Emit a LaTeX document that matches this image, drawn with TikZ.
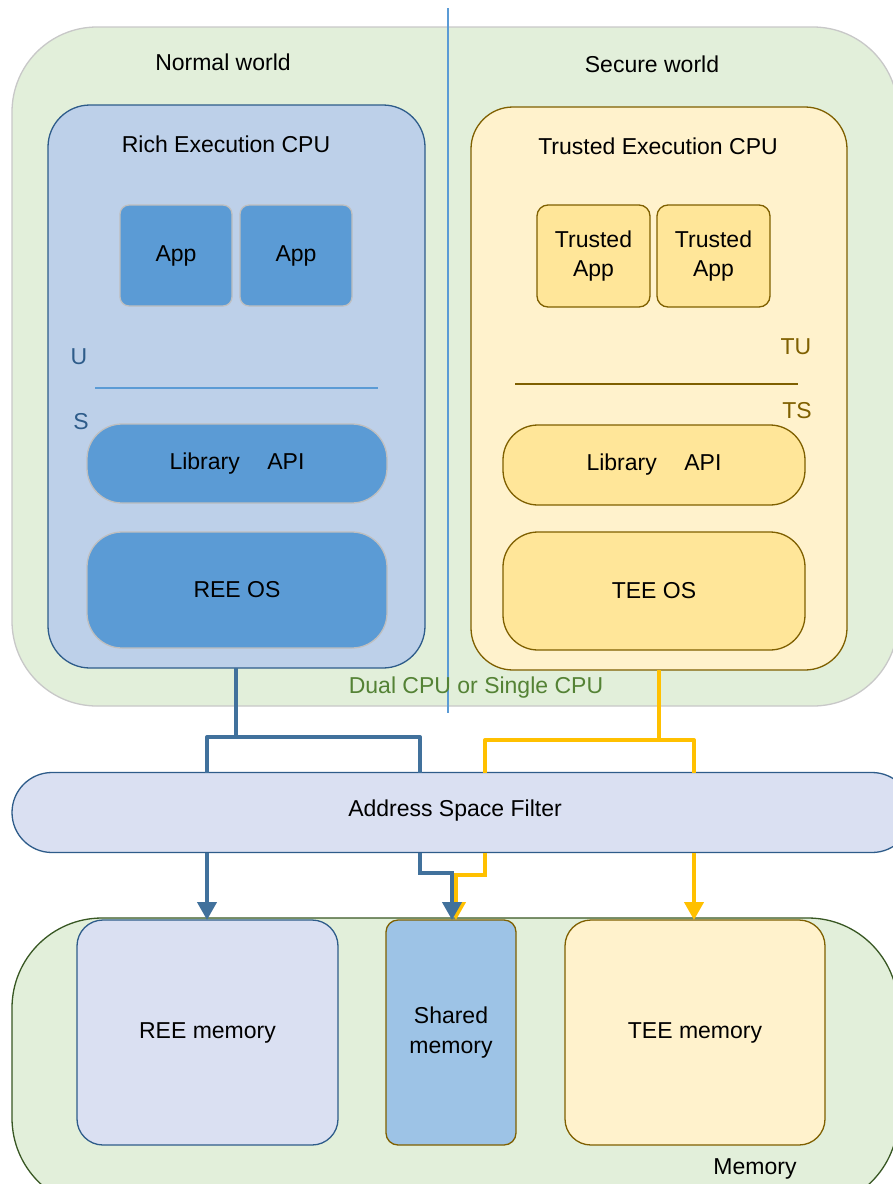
\documentclass[tikz,border=0pt]{standalone}
\usepackage{fontspec}
\setmainfont{Liberation Sans}
\usetikzlibrary{arrows.meta}
\definecolor{cpuGreen}{HTML}{E2EFDA}
\definecolor{cpuEdge}{HTML}{C8C8C8}
\definecolor{richFill}{HTML}{BDD0E9}
\definecolor{richEdge}{HTML}{2E5C8A}
\definecolor{appBlue}{HTML}{5B9BD5}
\definecolor{appEdge}{HTML}{BFBFBF}
\definecolor{trFill}{HTML}{FFF2CC}
\definecolor{trEdge}{HTML}{7F6000}
\definecolor{taFill}{HTML}{FFE699}
\definecolor{filtFill}{HTML}{DAE0F2}
\definecolor{lineBlue}{HTML}{41719C}
\definecolor{lineGold}{HTML}{FFC000}
\definecolor{memEdge}{HTML}{385723}
\definecolor{shFill}{HTML}{9DC3E6}
\definecolor{dualGreen}{HTML}{548235}
\definecolor{dividerBlue}{HTML}{5B9BD5}
\begin{document}
\begin{tikzpicture}[x=1pt,y=-1pt,
  font=\fontsize{23}{27}\selectfont,
  box/.style={draw,rounded corners=#1,inner sep=0pt,outer sep=0pt,align=center,line width=1.3pt},
  blueconn/.style={draw=lineBlue,line width=4pt},
  goldconn/.style={draw=lineGold,line width=4pt},
  tip/.style={-{Triangle[width=19pt,length=18pt]}}
]
\useasboundingbox (0,0) rectangle (893,1184);
\fill[white] (0,0) rectangle (893,1184);
% outer CPU area
\node[box=85pt,draw=cpuEdge,fill=cpuGreen,minimum width=886pt,minimum height=679pt] (cpu) at (455,366.5) {};
% Memory outer
\node[box=90pt,draw=memEdge,fill=cpuGreen,minimum width=886pt,minimum height=290pt] (mem) at (455,1063) {};
% divider
\coordinate (divtop) at (448,8);
\coordinate (divbot) at (448,713);
\draw[dividerBlue,line width=1.3pt] (divtop) -- (divbot);
\node (nw) at (223,62) {Normal world};
\node (sw) at (652,64) {Secure world};
% Rich CPU
\node[box=42pt,draw=richEdge,fill=richFill,minimum width=377pt,minimum height=563pt] (rich) at (236.5,386.5) {};
\node (richt) at (226,144) {Rich Execution CPU};
\node[box=9pt,draw=appEdge,fill=appBlue,minimum width=112pt,minimum height=101pt] (app1) at (176,255.5) {App};
\node[box=9pt,draw=appEdge,fill=appBlue,minimum width=112pt,minimum height=101pt] (app2) at (296,255.5) {App};
\node[text=richEdge] (U) at (79,357) {U};
\node[text=richEdge] (S) at (81,422) {S};
\coordinate (ul) at (95,388);
\coordinate (ur) at (378,388);
\draw[dividerBlue,line width=2pt] (ul) -- (ur);
\node[box=35pt,draw=appEdge,fill=appBlue,minimum width=300pt,minimum height=79pt] (libr) at (237,463.5) {Library\hspace{1.2em}API};
\node[box=35pt,draw=appEdge,fill=appBlue,minimum width=300pt,minimum height=116pt] (reeos) at (237,590) {REE OS};
% Trusted CPU
\node[box=42pt,draw=trEdge,fill=trFill,minimum width=376pt,minimum height=563pt] (trust) at (659,388.5) {};
\node (trustt) at (658,146) {Trusted Execution CPU};
\node[box=11pt,draw=trEdge,fill=taFill,minimum width=113pt,minimum height=102pt,font=\fontsize{23}{29}\selectfont] (ta1) at (593.5,256) {Trusted\\App};
\node[box=11pt,draw=trEdge,fill=taFill,minimum width=113pt,minimum height=102pt,font=\fontsize{23}{29}\selectfont] (ta2) at (713.5,256) {Trusted\\App};
\node[text=trEdge] (TU) at (796,347) {TU};
\node[text=trEdge] (TS) at (797,411) {TS};
\coordinate (tl) at (515,384);
\coordinate (tr) at (798,384);
\draw[trEdge,line width=2pt] (tl) -- (tr);
\node[box=35pt,draw=trEdge,fill=taFill,minimum width=302pt,minimum height=80pt] (libt) at (654,465) {Library\hspace{1.2em}API};
\node[box=35pt,draw=trEdge,fill=taFill,minimum width=302pt,minimum height=118pt] (teeos) at (654,591) {TEE OS};
\node[text=dualGreen] (dual) at (476,688) {Dual CPU or Single CPU};
% Address space filter
\node[box=40pt,draw=richEdge,fill=filtFill,minimum width=900pt,minimum height=80pt] (asf) at (462,812.5) {};
\node (asft) at (455,811) {Address Space Filter};
% memory boxes
\node[box=26pt,draw=richEdge,fill=filtFill,minimum width=261pt,minimum height=225pt] (reem) at (207.5,1032.5) {REE memory};
\node[box=12pt,draw=trEdge,fill=shFill,minimum width=130pt,minimum height=225pt,font=\fontsize{23}{30}\selectfont] (shm) at (451,1032.5) {Shared\\memory};
\node[box=26pt,draw=trEdge,fill=trFill,minimum width=260pt,minimum height=225pt] (teem) at (695,1032.5) {TEE memory};
\node (memt) at (755,1169) {Memory};
% gold connectors
\coordinate (gj) at (659,740);
\coordinate (gl) at (485,740);
\coordinate (gr) at (694,740);
\draw[goldconn] (trust.south -| gj) -- (gj);
\draw[goldconn,line join=round] (gl |- asf.north) -- (gl) -- (gr) -- (gr |- asf.north);
\coordinate (gb1) at (485,875);
\coordinate (gb2) at (456,875);
\draw[goldconn,tip] (gb1 |- asf.south) -- (gb1) -- (gb2) -- (gb2 |- shm.north);
\draw[goldconn,tip] (gr |- asf.south) -- (gr |- teem.north);
% blue connectors
\coordinate (bj) at (236,737);
\coordinate (bl) at (207,737);
\coordinate (br) at (420,737);
\draw[blueconn] (rich.south -| bj) -- (bj);
\draw[blueconn,line join=round] (bl |- asf.north) -- (bl) -- (br) -- (br |- asf.north);
\coordinate (bb1) at (420,873);
\coordinate (bb2) at (452,873);
\draw[blueconn,tip] (bl |- asf.south) -- (bl |- reem.north);
\draw[blueconn,tip] (bb1 |- asf.south) -- (bb1) -- (bb2) -- (bb2 |- shm.north);
\end{tikzpicture}
\end{document}
